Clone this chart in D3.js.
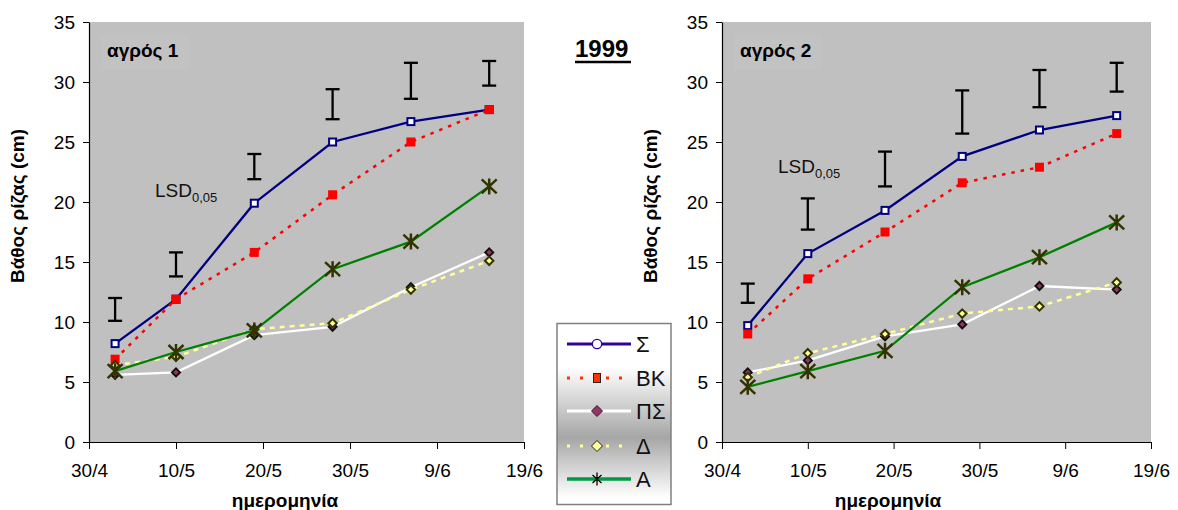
<!DOCTYPE html>
<html><head><meta charset="utf-8">
<script src="https://cdn.jsdelivr.net/npm/d3@7"></script>
<style>
body{margin:0;background:#fff;}
svg text{font-family:"Liberation Sans",Arial,sans-serif;}
</style>
</head><body>
<svg id="chart" width="1178" height="510"></svg>
<script>
// ---------- data ----------
const sampleDates = ["1999-05-03","1999-05-10","1999-05-19","1999-05-28","1999-06-06","1999-06-15"];
const xTickDates  = ["1999-04-30","1999-05-10","1999-05-20","1999-05-30","1999-06-09","1999-06-19"];
const xTickLabels = ["30/4","10/5","20/5","30/5","9/6","19/6"];
const yTicks = [0,5,10,15,20,25,30,35];
const seriesNames = ["Σ","ΒΚ","ΠΣ","Δ","Α"];

// field 1 (αγρός 1)
const f1_S  = [8.2, 11.9, 19.9, 25.0, 26.7, 27.7];
const f1_BK = [6.9, 11.9, 15.8, 20.6, 25.0, 27.7];
const f1_PS = [5.6, 5.8, 8.9, 9.6, 12.9, 15.8];
const f1_D  = [6.4, 7.1, 9.4, 9.9, 12.7, 15.1];
const f1_A  = [5.9, 7.5, 9.3, 14.4, 16.7, 21.3];
const f1_lsdLow  = [10.1, 13.8, 21.9, 26.9, 28.6, 29.7];
const f1_lsdHigh = [12.0, 15.8, 24.0, 29.4, 31.6, 31.75];

// field 2 (αγρός 2)
const f2_S  = [9.7, 15.7, 19.3, 23.8, 26.0, 27.2];
const f2_BK = [9.0, 13.6, 17.5, 21.6, 22.9, 25.7];
const f2_PS = [5.8, 6.8, 8.8, 9.8, 13.0, 12.7];
const f2_D  = [5.4, 7.4, 9.0, 10.7, 11.3, 13.3];
const f2_A  = [4.6, 5.9, 7.6, 12.9, 15.4, 18.3];
const f2_lsdLow  = [11.6, 17.7, 21.3, 25.7, 27.9, 29.2];
const f2_lsdHigh = [13.2, 20.3, 24.2, 29.3, 31.0, 31.6];

// ---------- drawing ----------
const svg = d3.select("#chart");
const parse = d3.timeParse("%Y-%m-%d");
const dates = sampleDates.map(parse);
const tickDates = xTickDates.map(parse);

const styles = [
  {color:"#000080", width:2.3, dash:null,  marker:"sq"},
  {color:"#ff0000", width:2.5, dash:"3.5,6", marker:"fsq"},
  {color:"#ffffff", width:2.3, dash:null,  marker:"dia"},
  {color:"#ffff99", width:2.5, dash:"5,5", marker:"ydia"},
  {color:"#008000", width:2.3, dash:null,  marker:"star"}
];

function drawMarker(g, type, cx, cy){
  if(type==="sq"){
    g.append("rect").attr("x",cx-3.5).attr("y",cy-3.5).attr("width",7).attr("height",7)
      .attr("fill","#fff").attr("stroke","#000080").attr("stroke-width",2);
  } else if(type==="fsq"){
    g.append("rect").attr("x",cx-4.5).attr("y",cy-4.5).attr("width",9).attr("height",9)
      .attr("fill","#ff0000");
  } else if(type==="dia"){
    const s=4;
    g.append("path").attr("d",`M${cx},${cy-s}L${cx+s},${cy}L${cx},${cy+s}L${cx-s},${cy}Z`)
      .attr("fill","#993366").attr("stroke","#111").attr("stroke-width",2);
  } else if(type==="ydia"){
    const s=4.2;
    g.append("path").attr("d",`M${cx},${cy-s}L${cx+s},${cy}L${cx},${cy+s}L${cx-s},${cy}Z`)
      .attr("fill","#ffff99").attr("stroke","#333300").attr("stroke-width",2);
  } else if(type==="star"){
    g.append("path").attr("d",`M${cx},${cy-8}L${cx},${cy+8}M${cx-7.5},${cy-7}L${cx+7.5},${cy+7}M${cx-7.5},${cy+7}L${cx+7.5},${cy-7}`)
      .attr("stroke","#333300").attr("stroke-width",2.5).attr("fill","none");
  }
}

function panel(o){
  const x = d3.scaleTime().domain([tickDates[0], tickDates[tickDates.length-1]]).range([o.x0, o.x1]);
  const y = d3.scaleLinear().domain([0,35]).range([442,22]);
  const g = svg.append("g");
  g.append("rect").attr("x",o.x0).attr("y",22).attr("width",o.x1-o.x0).attr("height",420).attr("fill","#c0c0c0");
  // label box
  g.append("rect").attr("x",o.boxX).attr("y",35).attr("width",88).attr("height",35).attr("fill","#c2c2c2");
  g.append("text").attr("x",o.labelX).attr("y",57).attr("font-size",19).attr("font-weight","bold").text(o.label);
  // LSD text
  const t = g.append("text").attr("x",o.lsdX).attr("y",o.lsdY).attr("font-size",19).attr("fill","#111");
  t.append("tspan").text("LSD");
  t.append("tspan").attr("font-size",13).attr("dy",5).text("0,05");

  // axes
  const ya = d3.axisLeft(y).tickValues(yTicks).tickSize(6).tickPadding(8).tickSizeOuter(0);
  const yg = g.append("g").attr("transform",`translate(${o.x0},0)`).call(ya);
  const xa = d3.axisBottom(x).tickValues(tickDates).tickFormat((d,i)=>xTickLabels[i]).tickSize(7).tickPadding(14.5).tickSizeOuter(0);
  const xg = g.append("g").attr("transform","translate(0,442)").call(xa);
  [yg,xg].forEach(a=>{
    a.selectAll("text").attr("font-size",19).attr("fill","#000").style("font-family","'Liberation Sans',Arial,sans-serif");
    a.selectAll("line").attr("stroke","#000");
    a.select(".domain").attr("stroke","#000").attr("stroke-width",1.2);
  });

  // axis titles
  g.append("text").attr("transform",`translate(${o.yTitleX},206) rotate(-90)`).attr("text-anchor","middle")
    .attr("font-size",19).attr("font-weight","bold").text("Βάθος ρίζας (cm)");
  g.append("text").attr("x",o.xTitleX).attr("y",507).attr("text-anchor","middle")
    .attr("font-size",19).attr("font-weight","bold").text("ημερομηνία");

  // error bars (LSD)
  const eb = g.append("g").attr("stroke","#000").attr("stroke-width",2.3);
  dates.forEach((d,i)=>{
    const cx = x(d);
    eb.append("line").attr("x1",cx).attr("x2",cx).attr("y1",y(o.lsdLow[i])).attr("y2",y(o.lsdHigh[i]));
    eb.append("line").attr("x1",cx-7).attr("x2",cx+7).attr("y1",y(o.lsdLow[i])).attr("y2",y(o.lsdLow[i]));
    eb.append("line").attr("x1",cx-7).attr("x2",cx+7).attr("y1",y(o.lsdHigh[i])).attr("y2",y(o.lsdHigh[i]));
  });

  // series
  const line = d3.line().x((d,i)=>x(dates[i])).y(d=>y(d));
  o.series.forEach((vals,k)=>{
    const st = styles[k];
    const sg = g.append("g");
    const p = sg.append("path").attr("d",line(vals)).attr("fill","none")
      .attr("stroke",st.color).attr("stroke-width",st.width);
    if(st.dash) p.attr("stroke-dasharray",st.dash);
    vals.forEach((v,i)=>drawMarker(sg, st.marker, x(dates[i]), y(v)));
  });
}

panel({x0:89, x1:524, label:"αγρός 1", boxX:101, labelX:107, lsdX:155, lsdY:197,
  yTitleX:24, xTitleX:285, lsdLow:f1_lsdLow, lsdHigh:f1_lsdHigh,
  series:[f1_S,f1_BK,f1_PS,f1_D,f1_A]});
panel({x0:722, x1:1151, label:"αγρός 2", boxX:734, labelX:740, lsdX:778, lsdY:173,
  yTitleX:657, xTitleX:888, lsdLow:f2_lsdLow, lsdHigh:f2_lsdHigh,
  series:[f2_S,f2_BK,f2_PS,f2_D,f2_A]});

// title
svg.append("text").attr("x",575).attr("y",57).attr("font-size",24).attr("font-weight","bold").text("1999");
svg.append("line").attr("x1",575).attr("x2",631).attr("y1",62).attr("y2",62).attr("stroke","#000").attr("stroke-width",2.5);

// legend
const defs = svg.append("defs");
const grad = defs.append("linearGradient").attr("id","lg").attr("x1",0).attr("y1",0).attr("x2",0).attr("y2",1);
[[0,"#ffffff"],[0.24,"#ffffff"],[0.63,"#a6a6a6"],[0.96,"#ffffff"],[1,"#ffffff"]].forEach(s=>
  grad.append("stop").attr("offset",s[0]).attr("stop-color",s[1]));
const lg = svg.append("g");
lg.append("rect").attr("x",557).attr("y",323.5).attr("width",114).attr("height",181)
  .attr("fill","url(#lg)").attr("stroke","#808080").attr("stroke-width",1.5);
const legRows = [344,378,411,446,479];
const legStyles = [
  {color:"#330099", width:3, dash:null},
  {color:"#ff3300", width:3, dash:"3,10"},
  {color:"#ffffff", width:3, dash:null},
  {color:"#ffff99", width:3, dash:"3,10"},
  {color:"#009a44", width:3.5, dash:null}
];
seriesNames.forEach((name,k)=>{
  const yy = legRows[k], st = legStyles[k];
  const l = lg.append("line").attr("x1",567).attr("x2",631).attr("y1",yy).attr("y2",yy)
    .attr("stroke",st.color).attr("stroke-width",st.width);
  if(st.dash) l.attr("stroke-dasharray",st.dash);
  const cx = 597;
  if(k===0){
    lg.append("circle").attr("cx",cx).attr("cy",yy).attr("r",4.7).attr("fill","#fff").attr("stroke","#330099").attr("stroke-width",1.3);
  } else if(k===1){
    lg.append("rect").attr("x",cx-3.5).attr("y",yy-4.5).attr("width",7).attr("height",9).attr("fill","#ff3300").attr("stroke","#222").attr("stroke-width",1);
  } else if(k===2){
    lg.append("path").attr("d",`M${cx},${yy-5.5}L${cx+5.5},${yy}L${cx},${yy+5.5}L${cx-5.5},${yy}Z`).attr("fill","#993366").attr("stroke","#222").attr("stroke-width",1);
  } else if(k===3){
    lg.append("path").attr("d",`M${cx},${yy-5.5}L${cx+5.5},${yy}L${cx},${yy+5.5}L${cx-5.5},${yy}Z`).attr("fill","#ffff99").attr("stroke","#222").attr("stroke-width",1);
  } else {
    lg.append("path").attr("d",`M${cx},${yy-6.5}L${cx},${yy+6.5}M${cx-4.5},${yy-4}L${cx+4.5},${yy+4}M${cx-4.5},${yy+4}L${cx+4.5},${yy-4}`).attr("stroke","#000").attr("stroke-width",1.3);
  }
  lg.append("text").attr("x",636).attr("y",yy+8).attr("font-size",22).attr("fill","#111").text(name);
});
</script>
</body></html>
